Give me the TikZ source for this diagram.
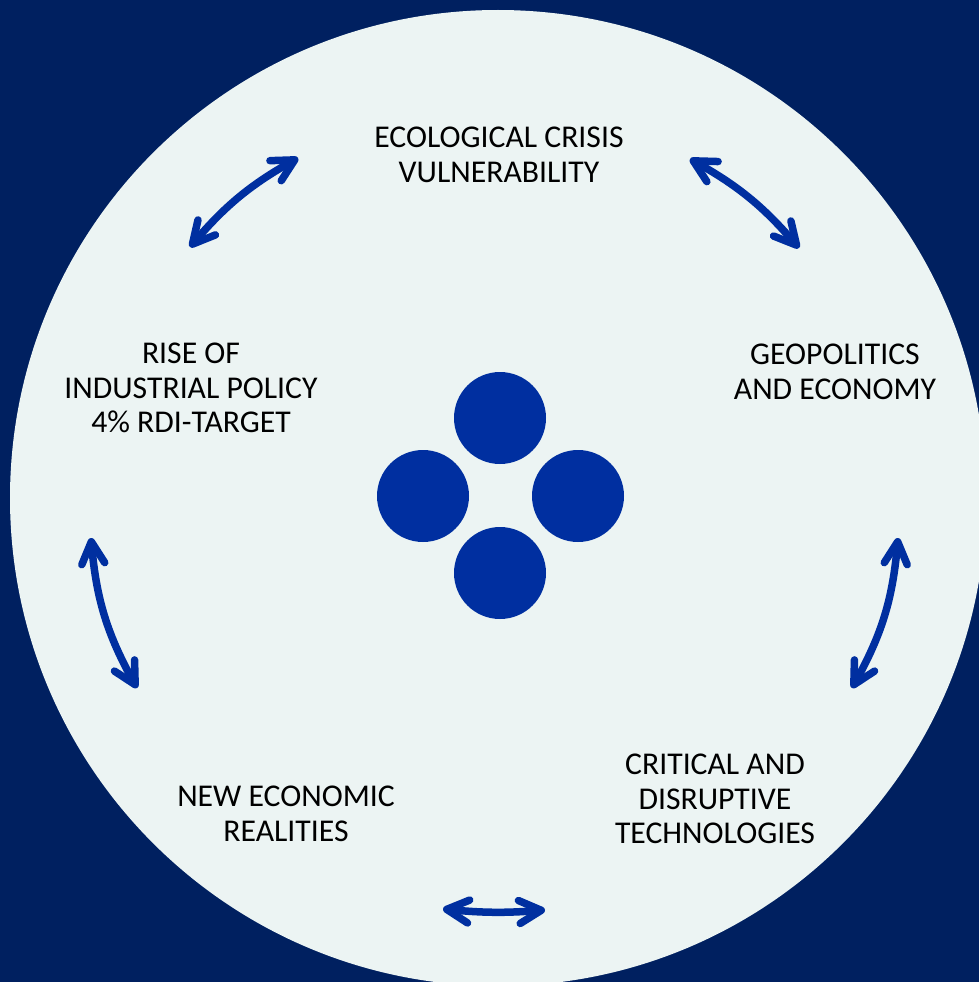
\documentclass[tikz,border=0pt]{standalone}
\usepackage{fontspec}
\setmainfont{Carlito}
\usetikzlibrary{arrows.meta}
\definecolor{navy}{HTML}{002060}
\definecolor{paleteal}{HTML}{ECF4F3}
\definecolor{royal}{HTML}{002FA0}

\begin{document}
\begin{tikzpicture}[x=1pt,y=-1pt,
    label/.style={align=center,inner sep=0pt,font=\fontsize{31.7}{34.5}\selectfont},
    dot/.style={circle,fill=royal,minimum size=92pt,inner sep=0pt},
    barb/.tip={Straight Barb[length=22pt,width=23pt,round]},
    link/.style={royal,line width=7.5pt,line cap=round,barb-barb}]
  \useasboundingbox (0,0) rectangle (979,982);
  \clip (0,0) rectangle (979,982);
  \fill[navy] (0,0) rectangle (979,982);
  \fill[paleteal] (498,498) circle (488pt);

  \node[dot] (top) at (500,418) {};
  \node[dot] (left) at (423,496) {};
  \node[dot] (right) at (578,496) {};
  \node[dot] (bottom) at (500,573) {};

  \node[label] (eco) at (499,155) {ECOLOGICAL CRISIS\\VULNERABILITY};
  \node[label] (geo) at (835,372) {GEOPOLITICS\\AND ECONOMY};
  \node[label] (tech) at (715,799) {CRITICAL AND\\DISRUPTIVE\\TECHNOLOGIES};
  \node[label] (econ) at (286,814) {NEW ECONOMIC\\REALITIES};
  \node[label] (ind) at (191,388) {RISE OF\\INDUSTRIAL POLICY\\4\% RDI-TARGET};

  \coordinate (ind-in) at (190,247);
  \coordinate (eco-w) at (298,158);
  \coordinate (eco-e) at (690,159);
  \coordinate (geo-in) at (799,248);
  \coordinate (geo-out) at (898,538);
  \coordinate (tech-in) at (852,688);
  \coordinate (tech-out) at (545,910);
  \coordinate (econ-in) at (443,909);
  \coordinate (econ-out) at (137,688);
  \coordinate (ind-out) at (91,538);

  \draw[link] (ind-in) to[bend left=10] (eco-w);
  \draw[link] (eco-e) to[bend left=10] (geo-in);
  \draw[link] (geo-out) to[bend left=12] (tech-in);
  \draw[link] (tech-out) to[bend left=5] (econ-in);
  \draw[link] (econ-out) to[bend left=12] (ind-out);
\end{tikzpicture}
\end{document}
